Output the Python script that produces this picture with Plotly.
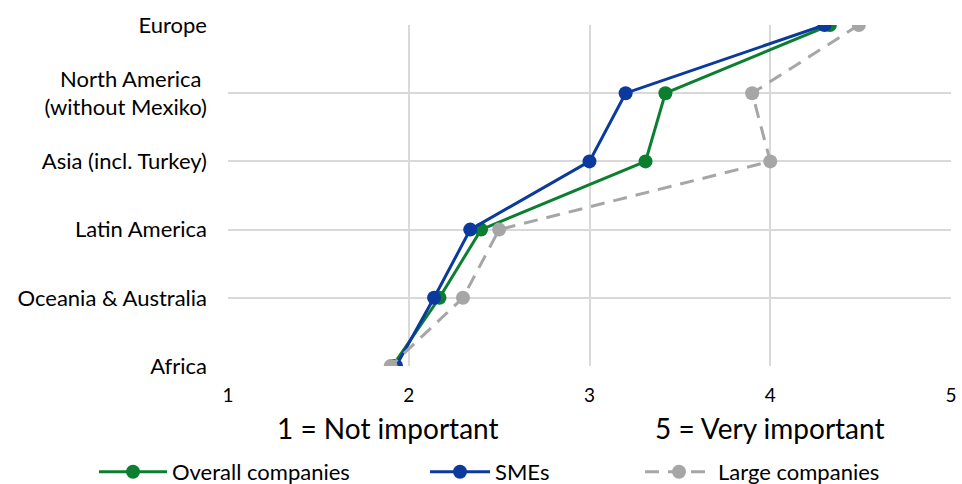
import plotly.graph_objects as go

regions = ["Europe", "North America <br>(without Mexiko)", "Asia (incl. Turkey)",
           "Latin America", "Oceania & Australia", "Africa"]
overall = [4.33, 3.42, 3.31, 2.40, 2.17, 1.91]
smes = [4.30, 3.20, 3.00, 2.34, 2.14, 1.93]
large = [4.49, 3.90, 4.00, 2.50, 2.30, 1.90]
x_ticks = [1, 2, 3, 4, 5]

FONT = "Lato, 'Open Sans', sans-serif"
W, H = 962, 484

fig = go.Figure()
fig.add_trace(go.Scatter(x=overall, y=regions, name="Overall companies", mode="lines+markers",
                         line=dict(color="#0b7f2f", width=3), marker=dict(size=14, color="#0b7f2f"),
                         legend="legend"))
fig.add_trace(go.Scatter(x=smes, y=regions, name="SMEs", mode="lines+markers",
                         line=dict(color="#0a3a9e", width=3), marker=dict(size=14, color="#0a3a9e"),
                         legend="legend2"))
fig.add_trace(go.Scatter(x=large, y=regions, name="Large companies", mode="lines+markers",
                         line=dict(color="#a6a6a6", width=3, dash="14px,9px"),
                         marker=dict(size=14, color="#a6a6a6"), legend="legend3"))


def leg(px_left, iw):
    return dict(orientation="h", xref="container", yref="container", x=px_left / W, xanchor="left",
                y=(H - 472) / H, yanchor="middle", font=dict(size=22), itemwidth=iw,
                bgcolor="rgba(0,0,0,0)")


fig.update_layout(
    width=W, height=H,
    margin=dict(l=228, r=11, t=25, b=118, autoexpand=False),
    plot_bgcolor="white", paper_bgcolor="white",
    font=dict(family=FONT, size=22, color="#000000"),
    xaxis=dict(range=[1, 5], tickvals=x_ticks, showgrid=True, gridcolor="#d9d9d9", gridwidth=1.5,
               zeroline=False, showline=False, tickfont=dict(size=19), ticklabelstandoff=16),
    yaxis=dict(categoryorder="array", categoryarray=regions, range=[5, 0],
               showgrid=True, gridcolor="#d9d9d9", gridwidth=1.5, zeroline=False,
               tickfont=dict(size=22), ticklabelstandoff=20),
    legend=leg(94, 68), legend2=leg(425, 60), legend3=leg(640, 68),
    showlegend=True,
    annotations=[
        dict(text="1 = Not important", x=1.885, y=0, xref="x", yref="paper", xanchor="center",
             yanchor="middle", yshift=-62, showarrow=False, font=dict(size=28)),
        dict(text="5 = Very important", x=4.0, y=0, xref="x", yref="paper", xanchor="center",
             yanchor="middle", yshift=-62, showarrow=False, font=dict(size=28)),
    ],
)
fig.write_html("out.html")
